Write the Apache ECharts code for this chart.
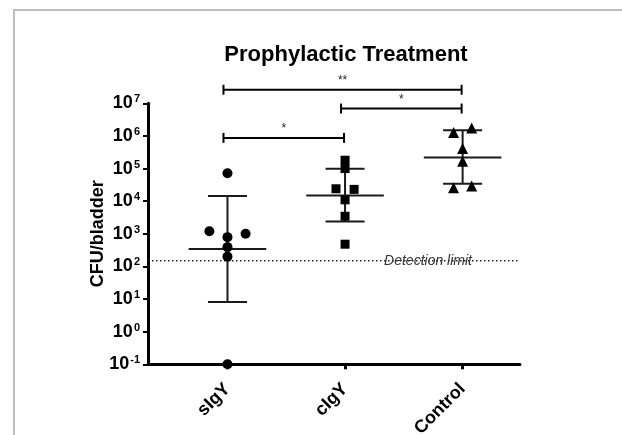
<!DOCTYPE html>
<html>
<head>
<meta charset="utf-8">
<script src="https://cdn.jsdelivr.net/npm/echarts@6/dist/echarts.min.js"></script>
<style>html,body{margin:0;padding:0;background:#fff}#c{width:622px;height:435px}</style>
</head>
<body>
<div id="c"></div>
<script>
// ---- data ----
const categories = ['sIgY', 'cIgY', 'Control'];
const sIgYValues = [72000, 1200, 1000, 790, 390, 200, 0.1];
const cIgYValues = [180000, 100000, 24000, 23000, 11000, 3450, 480];
const controlValues = [1270000, 1760000, 410000, 167000, 26000, 29000];
// horizontal spread of overlapping points (in symbol-width steps)
const sIgYSpread = [0, -2, 2, 0, 0, 0, 0];
const cIgYSpread = [0, 0, -1, 1, 0, 0, 0];
const controlSpread = [-1, 1, 0, 0, -1, 1];
const groupMean = [340, 15000, 220000];
const groupUpper = [14500, 98000, 1500000];
const groupLower = [8.1, 2400, 34000];
const yTickExponents = [-1, 0, 1, 2, 3, 4, 5, 6, 7];
const bracketFrom = [0, 1, 0];
const bracketTo = [1, 2, 2];
const bracketLevel = [870000, 6900000, 26000000];
const bracketLabel = ['*', '*', '**'];
const detectionLimit = 150;
const detectionLabel = 'Detection limit';
const titleText = 'Prophylactic Treatment';
const yAxisTitle = 'CFU/bladder';

const FONT = '"Liberation Sans", Arial, Helvetica, sans-serif';
const INK = '#000';
const STEP = 0.077;

function pts(vals, spread, gi) {
  return vals.map((v, i) => [gi + spread[i] * STEP, v]);
}

const chart = echarts.init(document.getElementById('c'), null, {renderer: 'canvas'});

const option = {
  backgroundColor: '#fff',
  animation: false,
  title: {
    text: titleText,
    left: 341, top: 39, textAlign: 'center',
    textStyle: {fontFamily: FONT, fontSize: 22, fontWeight: 'bold', color: INK}
  },
  graphic: [{
    type: 'polyline', silent: true,
    shape: {points: [[14, 435], [14, 10], [622, 10]]},
    style: {stroke: '#bdbdbd', lineWidth: 2, fill: null}
  }],
  grid: {left: 148, right: 102, top: 103.3, bottom: 70.7, containLabel: false, outerBoundsMode: 'none'},
  xAxis: {
    type: 'value', min: -0.676, max: 2.488,
    splitLine: {show: false},
    axisLine: {show: true, onZero: false, lineStyle: {color: INK, width: 3}},
    axisTick: {show: true, customValues: [0, 1, 2], length: 5, lineStyle: {color: INK, width: 3}},
    axisLabel: {
      customValues: [0, 1, 2],
      formatter: v => categories[Math.round(v)],
      rotate: 45, margin: 22,
      fontFamily: FONT, fontSize: 18, fontWeight: 'bold', color: INK
    }
  },
  yAxis: {
    type: 'log', logBase: 10, min: 0.1, max: 1e7, splitNumber: 8,
    name: yAxisTitle, nameLocation: 'middle', nameGap: 41, nameRotate: 90, nameMoveOverlap: false,
    nameTextStyle: {fontFamily: FONT, fontSize: 18, fontWeight: 'bold', color: INK},
    splitLine: {show: false},
    axisLine: {show: true, onZero: false, lineStyle: {color: INK, width: 3}},
    axisTick: {show: true, length: 5, lineStyle: {color: INK, width: 2}},
    axisLabel: {
      margin: 8,
      formatter: v => {
        const e = Math.round(Math.log10(v));
        return yTickExponents.indexOf(e) >= 0 ? '{b|10}{s|' + e + '}' : '';
      },
      rich: {
        b: {fontFamily: FONT, fontSize: 18, fontWeight: 'bold', color: INK, lineHeight: 19},
        s: {fontFamily: FONT, fontSize: 11, fontWeight: 'bold', color: INK, lineHeight: 11, verticalAlign: 'top', padding: [0, 0, 0, 1]}
      }
    }
  },
  series: [
    {
      type: 'custom', name: 'detection', clip: false, z: 1,
      data: [[0, detectionLimit]],
      renderItem: (params, api) => {
        const cs = params.coordSys;
        const y = api.coord([0, api.value(1)])[1];
        return {
          type: 'group', children: [
            {type: 'line', shape: {x1: cs.x, y1: y, x2: cs.x + cs.width, y2: y},
              style: {stroke: '#222', lineWidth: 1.5, lineDash: [1.5, 2.5]}},
            {type: 'text', x: cs.x + cs.width - 48, y: y,
              style: {text: detectionLabel, align: 'right', verticalAlign: 'middle',
                font: 'italic 14px ' + FONT, fill: '#333'}}
          ]
        };
      }
    },
    {
      type: 'custom', name: 'meanSD', clip: false, z: 2,
      data: categories.map((c, i) => [i, groupMean[i], groupUpper[i], groupLower[i]]),
      encode: {x: 0, y: 1},
      renderItem: (params, api) => {
        const x = api.value(0);
        const pm = api.coord([x, api.value(1)]);
        const pu = api.coord([x, api.value(2)]);
        const pl = api.coord([x, api.value(3)]);
        const unit = api.coord([x + 1, api.value(1)])[0] - pm[0];
        const mw = unit * 0.33, cw = unit * 0.166;
        const st = {stroke: '#1a1a1a', lineWidth: 2};
        return {
          type: 'group', children: [
            {type: 'line', shape: {x1: pm[0] - mw, y1: pm[1], x2: pm[0] + mw, y2: pm[1]}, style: st},
            {type: 'line', shape: {x1: pu[0], y1: pu[1], x2: pl[0], y2: pl[1]}, style: st},
            {type: 'line', shape: {x1: pu[0] - cw, y1: pu[1], x2: pu[0] + cw, y2: pu[1]}, style: st},
            {type: 'line', shape: {x1: pl[0] - cw, y1: pl[1], x2: pl[0] + cw, y2: pl[1]}, style: st}
          ]
        };
      }
    },
    {
      type: 'scatter', name: 'sIgY', clip: false, z: 3,
      symbol: 'circle', symbolSize: 10, itemStyle: {color: INK, opacity: 1},
      data: pts(sIgYValues, sIgYSpread, 0)
    },
    {
      type: 'scatter', name: 'cIgY', clip: false, z: 3,
      symbol: 'rect', symbolSize: 9, itemStyle: {color: INK, opacity: 1},
      data: pts(cIgYValues, cIgYSpread, 1)
    },
    {
      type: 'scatter', name: 'Control', clip: false, z: 3,
      symbol: 'triangle', symbolSize: 11, itemStyle: {color: INK, opacity: 1},
      data: pts(controlValues, controlSpread, 2)
    },
    {
      type: 'custom', name: 'significance', clip: false, z: 4,
      data: bracketLevel.map((v, i) => [bracketFrom[i], bracketTo[i], v, bracketLabel[i]]),
      encode: {x: [0, 1], y: 2},
      renderItem: (params, api) => {
        const a = api.coord([api.value(0), api.value(2)]);
        const b = api.coord([api.value(1), api.value(2)]);
        const x1 = a[0] - 4, x2 = b[0] - 1, y = a[1];
        const st = {stroke: INK, lineWidth: 2};
        return {
          type: 'group', children: [
            {type: 'line', shape: {x1: x1, y1: y, x2: x2, y2: y}, style: st},
            {type: 'line', shape: {x1: x1, y1: y - 5, x2: x1, y2: y + 5}, style: st},
            {type: 'line', shape: {x1: x2, y1: y - 5, x2: x2, y2: y + 5}, style: st},
            {type: 'text', x: (x1 + x2) / 2, y: y - 3,
              style: {text: api.value(3), align: 'center', verticalAlign: 'bottom',
                font: '12px ' + FONT, fill: '#222'}}
          ]
        };
      }
    }
  ]
};
chart.setOption(option);
</script>
</body>
</html>
